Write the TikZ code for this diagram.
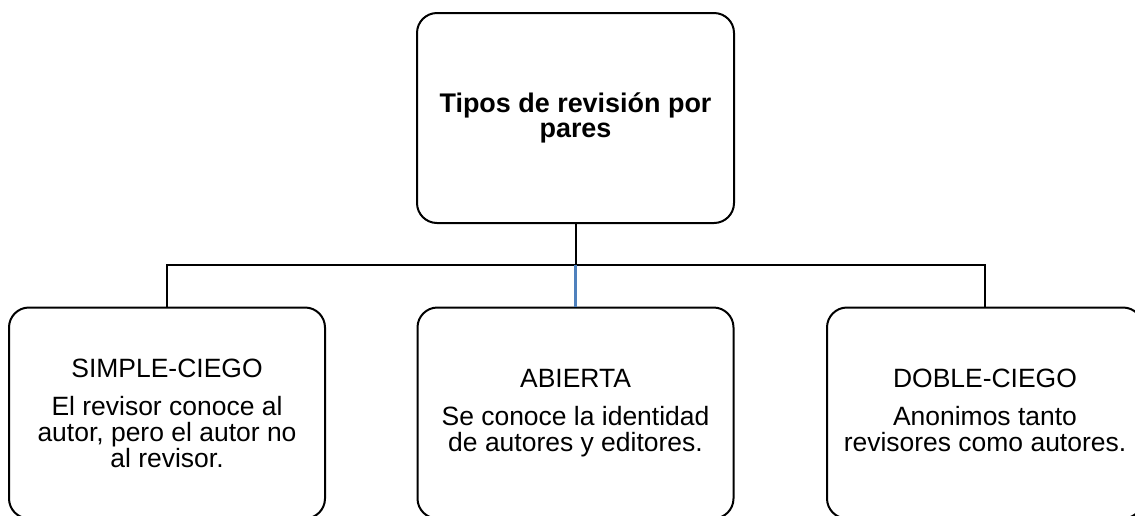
\documentclass[tikz,border=0pt]{standalone}
\usepackage{fontspec}
\setmainfont{Liberation Sans}
\definecolor{connblue}{RGB}{79,129,189}
\begin{document}
\begin{tikzpicture}[x=0.75pt,y=-0.75pt,
  box/.style={draw=black, line width=1.5pt, rounded corners=15pt, align=center, inner sep=0pt, fill=white},
  topbox/.style={box, minimum width=237.75pt, minimum height=157.5pt, font=\fontsize{20.2}{18.75}\selectfont\bfseries},
  leafbox/.style={box, minimum width=237pt, minimum height=158.25pt, font=\fontsize{19.85}{19.4}\selectfont},
  conn/.style={line width=0.9pt, draw=black},
  vconn/.style={line width=1.5pt, draw=black},
  blueconn/.style={line width=2pt, draw=connblue}]
\useasboundingbox (0,0) rectangle (1135,515);
\clip (0,0) rectangle (1135,515);
\node[topbox] (top) at (575.5,118) {Tipos de revisión por\\pares};
\node[leafbox] (left) at (167,413) {SIMPLE-CIEGO\\[9.2pt]El revisor conoce al\\autor, pero el autor no\\al revisor.};
\node[leafbox] (mid) at (575.5,413) {ABIERTA\\[9.2pt]Se conoce la identidad\\de autores y editores.};
\node[leafbox] (right) at (985,413) {DOBLE-CIEGO\\[9.2pt]Anonimos tanto\\revisores como autores.\vphantom{y}};
\coordinate (j) at (575.5,265);
\draw[conn] (left.north) |- (j) -| (right.north);
\draw[vconn] (top.south) -- (j);
\draw[blueconn] (j) -- (mid.north);
\end{tikzpicture}
\end{document}
